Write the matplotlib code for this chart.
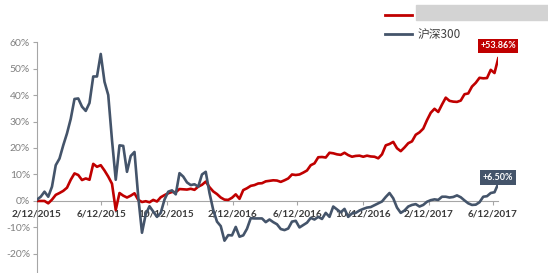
import numpy as np
import pandas as pd
import matplotlib
matplotlib.use("Agg")
from matplotlib import pyplot as plt
from matplotlib.lines import Line2D
from matplotlib.patches import Rectangle

# weekly cumulative returns (%), starting 2/12/2015
dates = pd.date_range("2015-02-12", periods=124, freq="7D")

fund = [0, 0, 0, -0.9, 0.5, 2.3, 3, 3.8, 5, 8,
        10.4, 9.8, 7.9, 8.5, 8, 14, 12.9, 13.5, 11.5, 9.2,
        6.5, -3.4, 3, 2, 1.3, 2, 2.9, 0.4, -0.4, -0.1,
        -0.5, 0.4, -0.2, 1.4, 2.2, 2.9, 3.4, 3.3, 4.5, 4.4,
        4.3, 4.6, 4.2, 5.4, 6.1, 7.3, 5.2, 3.6, 2.6, 1.3,
        0.5, 0.4, 1.2, 2.5, 0.8, 4.1, 4.8, 5.7, 6, 6.6,
        6.7, 7.4, 7.6, 7.8, 7.7, 7.2, 7.8, 8.5, 10, 9.8,
        10, 10.7, 11.5, 13.5, 14.2, 16.5, 16.6, 16.4, 18.2, 18,
        17.6, 17.4, 18.2, 17.3, 16.7, 17, 17.1, 16.7, 17.1, 16.8,
        16.7, 16.1, 17.6, 21, 21.5, 22.3, 19.9, 18.8, 20.2, 21.8,
        22.5, 25, 25.9, 27.3, 30.5, 33.3, 34.8, 33.6, 36.4, 39,
        37.8, 37.5, 37.4, 37.9, 40.3, 40.6, 43.2, 44.6, 46.5, 46.3,
        46.4, 49.5, 48.3, 53.86]

hs300 = [0.5, 1.6, 3.5, 1.6, 5.4, 13.5, 16, 21, 25.5, 31,
         38.5, 38.7, 35.6, 34, 37, 47, 47, 55.5, 45, 40,
         23, 8, 21, 20.8, 11, 17, 18.5, 1.6, -12, -5,
         -2, -4, -6, -4.5, 0.5, 3.5, 4, 2.5, 10.5, 9.2,
         7, 6, 6.3, 5.4, 10, 11, 3, -3.4, -7.8, -9.5,
         -15, -12.9, -13, -9.8, -13.5, -13, -10.5, -6.5, -6.6, -6.6,
         -6.6, -8, -7, -8, -8.8, -10.6, -11, -10.4, -7.8, -7.5,
         -10, -9.1, -8.2, -6.4, -7, -6, -6.8, -4.5, -6, -2.1,
         -3.2, -4.3, -3, -6, -4.7, -4.5, -3.6, -3, -2.5, -2.3,
         -1.6, -0.9, -0.2, 1.5, 3, 1, -2.5, -4.5, -3.6, -2.1,
         -1.5, -1.2, -2.1, -1.5, -0.3, 0.3, 0.6, 0.4, 1.6, 1.6,
         1.3, 1.5, 2.1, 1.4, 0.2, -0.9, -1.5, -1.4, -0.5, 1.6,
         1.8, 3, 3.3, 6.5]

tick_dates = ["2015-02-12", "2015-06-12", "2015-10-12", "2016-02-12",
              "2016-06-12", "2016-10-12", "2017-02-12", "2017-06-12"]
tick_labels = ["2/12/2015", "6/12/2015", "10/12/2015", "2/12/2016",
               "6/12/2016", "10/12/2016", "2/12/2017", "6/12/2017"]
series_names = ["", "沪深300"]

RED = "#c00000"
NAVY = "#44546a"

fig = plt.figure(figsize=(5.48, 2.73), dpi=100)
ax = fig.add_axes([0.0675, 0.0, 0.8417, 0.846])

ax.plot(dates, fund, color=RED, lw=1.9, zorder=3)
ax.plot(dates, hs300, color=NAVY, lw=1.9, zorder=3)

ax.set_xlim(dates[0], dates[-1])
ax.set_ylim(-27.2, 60)
ax.set_yticks(np.arange(-20, 61, 10))
ax.set_yticklabels([f"{v}%" for v in range(-20, 61, 10)])
ax.set_xticks(pd.to_datetime(tick_dates))
ax.set_xticklabels(tick_labels)
ax.set_axisbelow(True)

for s in ["top", "right"]:
    ax.spines[s].set_visible(False)
ax.spines["bottom"].set_position(("data", 0))
ax.spines["bottom"].set_color("#a6a6a6")
ax.spines["left"].set_color("#a6a6a6")
ax.tick_params(axis="y", direction="out", length=3, color="#a6a6a6",
               labelsize=7.5, labelcolor="#808080", pad=2)
ax.tick_params(axis="x", direction="out", length=3, color="#a6a6a6",
               labelsize=7.2, labelcolor="#3a3a3a", pad=3.5)
for lab in ax.get_xticklabels():
    lab.set_fontfamily("Lato")
    lab.set_fontweight("bold")
for lab in ax.get_yticklabels():
    lab.set_fontfamily("Lato")

# end-of-line value tags
ax.annotate(f"+{fund[-1]:.2f}%", (dates[-1], fund[-1]), xytext=(0, 9),
            textcoords="offset points", ha="center", va="center",
            fontsize=6.5, fontweight="bold", family="Lato", color="white",
            bbox=dict(boxstyle="square,pad=0.25", fc=RED, ec="none"), zorder=5)
ax.annotate(f"+{hs300[-1]:.2f}%", (dates[-1], hs300[-1]), xytext=(0, 4.5),
            textcoords="offset points", ha="center", va="center",
            fontsize=6.5, fontweight="bold", family="Lato", color="white",
            bbox=dict(boxstyle="square,pad=0.3", fc=NAVY, ec="none"), zorder=5)

handles = [Line2D([], [], color=RED, lw=2), Line2D([], [], color=NAVY, lw=2)]
leg = fig.legend(handles, series_names, loc="upper left",
                 bbox_to_anchor=(0.688, 0.995), frameon=False,
                 prop={"family": ["Noto Sans CJK SC", "DejaVu Sans"], "size": 8.5},
                 handlelength=2.3, handletextpad=0.45, labelspacing=0.45,
                 borderpad=0.2)
for t in leg.get_texts():
    t.set_color("#404040")

# the first series name is pixelated out in the source
fig.patches.append(Rectangle((0.759, 0.927), 0.241, 0.055, color="#d3d3d3",
                             transform=fig.transFigure, figure=fig))

fig.savefig("out.png", dpi=100)
